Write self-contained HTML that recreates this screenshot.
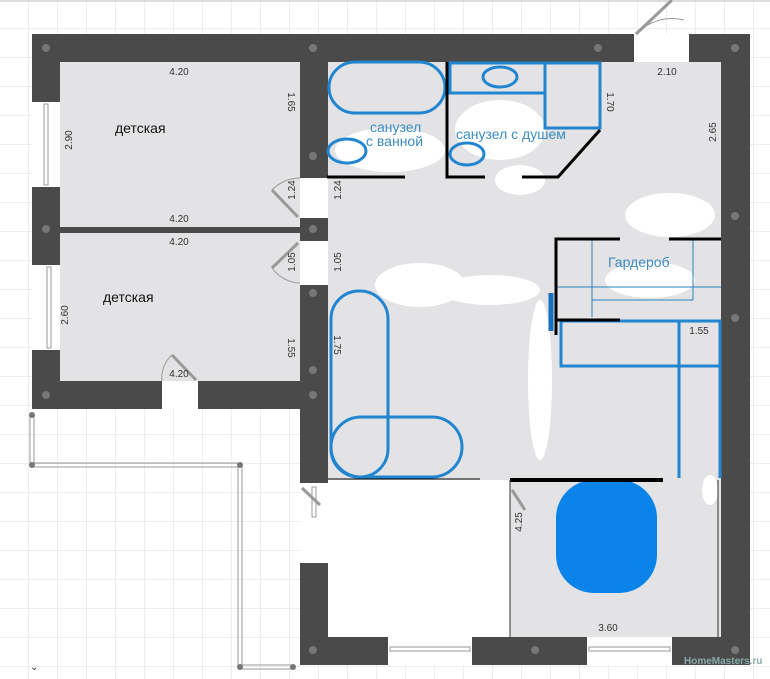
<!DOCTYPE html>
<html><head><meta charset="utf-8"><style>
html,body{margin:0;padding:0;background:#fff;}
svg{display:block}
text{font-family:"Liberation Sans","DejaVu Sans",sans-serif;}
</style></head><body>
<svg width="770" height="679" viewBox="0 0 770 679" xmlns="http://www.w3.org/2000/svg">
<defs>
<pattern id="g" width="29" height="29" patternUnits="userSpaceOnUse" x="0" y="0">
<path d="M29 0V29M0 29H29" stroke="#dedede" stroke-width="1" fill="none"/>
</pattern>
</defs>
<rect width="770" height="679" fill="#fff"/>
<rect width="770" height="679" fill="url(#g)"/>
<line x1="0" y1="1" x2="770" y2="1" stroke="#bbb"/>

<!-- left rooms -->
<rect x="32" y="34" width="296" height="375" fill="#4a4a4a"/>
<rect x="60" y="62" width="240" height="165" fill="#e3e3e5"/>
<rect x="60" y="233" width="240" height="148" fill="#e3e3e5"/>
<!-- right section walls -->
<rect x="300" y="34" width="334" height="28" fill="#4a4a4a"/>
<rect x="689" y="34" width="61" height="28" fill="#4a4a4a"/>
<rect x="300" y="34" width="28" height="631" fill="#4a4a4a"/>
<rect x="721" y="34" width="29" height="631" fill="#4a4a4a"/>
<rect x="300" y="637" width="450" height="28" fill="#4a4a4a"/>
<rect x="328" y="62" width="393" height="418" fill="#e3e3e5"/>
<rect x="510" y="480" width="211" height="157" fill="#e3e3e5"/>
<rect x="328" y="480" width="182" height="157" fill="#fff"/>

<!-- openings -->
<rect x="300" y="178" width="28" height="40" fill="#fff"/>
<rect x="300" y="241" width="28" height="44" fill="#fff"/>
<rect x="300" y="483" width="28" height="80" fill="#fff"/>
<rect x="162" y="381" width="36" height="28" fill="#fff"/>
<rect x="32" y="102" width="28" height="85" fill="#fff"/>
<rect x="32" y="265" width="28" height="85" fill="#fff"/>
<rect x="388" y="637" width="84" height="28" fill="#fff"/>
<rect x="587" y="637" width="85" height="28" fill="#fff"/>
<rect x="634" y="34" width="55" height="28" fill="#fff"/>
<g stroke="#999" fill="none" stroke-width="1">
<rect x="44" y="104" width="4" height="81"/><rect x="47" y="267" width="4" height="81"/>
<rect x="312" y="487" width="4" height="30"/>
<rect x="390" y="647" width="80" height="4"/><rect x="589" y="647" width="81" height="4"/>
<line x1="636" y1="34" x2="672" y2="0" stroke-width="3"/>
<path d="M636 34 A50 50 0 0 1 684 20"/>
<line x1="272" y1="190" x2="298" y2="217" stroke-width="3"/>
<path d="M272 190 A40 40 0 0 1 300 178"/>
<line x1="272" y1="268" x2="298" y2="243" stroke-width="3"/>
<path d="M272 268 A36 36 0 0 0 300 283"/>
<line x1="172" y1="355" x2="196" y2="380" stroke-width="3"/>
<path d="M162 381 A30 30 0 0 1 172 355"/>
<line x1="302" y1="488" x2="320" y2="505" stroke-width="3"/>
<line x1="512" y1="490" x2="525" y2="510" stroke-width="3"/>
</g>
<!-- dots -->
<g fill="#777">
<circle cx="46" cy="48" r="4"/><circle cx="313" cy="48" r="4"/><circle cx="46" cy="229" r="4"/><circle cx="313" cy="156" r="4"/>
<circle cx="313" cy="229" r="4"/><circle cx="313" cy="293" r="4"/><circle cx="46" cy="395" r="4"/><circle cx="313" cy="395" r="4"/>
<circle cx="598" cy="48" r="4"/><circle cx="735" cy="48" r="4"/><circle cx="735" cy="216" r="4"/><circle cx="735" cy="318" r="4"/>
<circle cx="313" cy="370" r="4"/><circle cx="313" cy="650" r="4"/><circle cx="535" cy="650" r="4"/><circle cx="735" cy="650" r="4"/>
</g>
<!-- balcony -->
<g stroke="#999" fill="none" stroke-width="1">
<rect x="30" y="415" width="4" height="50"/><rect x="32" y="463" width="208" height="4"/>
<rect x="238" y="465" width="4" height="202"/><rect x="240" y="665" width="53" height="4"/>
</g>
<g fill="#777"><circle cx="32" cy="415" r="3"/><circle cx="32" cy="465" r="3"/><circle cx="240" cy="465" r="3"/><circle cx="240" cy="667" r="3"/><circle cx="293" cy="667" r="3"/></g>

<!-- white blobs -->
<g fill="#fff">
<ellipse cx="390" cy="150" rx="55" ry="22"/><ellipse cx="500" cy="130" rx="45" ry="30"/><ellipse cx="520" cy="180" rx="25" ry="15"/>
<ellipse cx="670" cy="215" rx="45" ry="22"/><ellipse cx="420" cy="285" rx="45" ry="22"/><ellipse cx="490" cy="290" rx="50" ry="15"/>
<ellipse cx="540" cy="380" rx="12" ry="80"/><ellipse cx="650" cy="280" rx="45" ry="18"/><ellipse cx="710" cy="490" rx="8" ry="15"/>
</g>

<!-- fixtures -->
<g fill="none" stroke="#2185d0" stroke-width="3">
<rect x="329" y="62" width="116" height="51" rx="26"/>
<ellipse cx="347" cy="151" rx="19" ry="12"/>
<rect x="450" y="63" width="95" height="30"/>
<rect x="545" y="63" width="55" height="65"/>
<ellipse cx="500" cy="77" rx="17" ry="10"/>
<ellipse cx="467" cy="154" rx="17" ry="11"/>
<rect x="331" y="291" width="57" height="186" rx="28"/>
<rect x="331" y="417" width="131" height="60" rx="30"/>
<rect x="561" y="321" width="159" height="45"/>
<line x1="679" y1="321" x2="679" y2="478"/>
<line x1="720" y1="321" x2="720" y2="478"/>
</g>
<line x1="551" y1="293" x2="551" y2="331" stroke="#1670c0" stroke-width="5"/>
<g stroke="#2a80c4" stroke-width="1" fill="none">
<line x1="592" y1="240" x2="592" y2="317"/><line x1="693" y1="240" x2="693" y2="300"/>
<line x1="557" y1="287" x2="721" y2="287"/><line x1="592" y1="300" x2="693" y2="300"/>
</g>
<rect x="556" y="480" width="101" height="113" rx="38" fill="#0a84e8"/>
<!-- black partitions -->
<g stroke="#000" stroke-width="3" fill="none">
<line x1="327" y1="177" x2="405" y2="177"/>
<polyline points="447,62 447,177 485,177"/>
<polyline points="522,177 558,177 600,130"/>
<polyline points="620,239 556,239 556,335"/>
<line x1="669" y1="239" x2="721" y2="239"/>
<line x1="556" y1="320" x2="620" y2="320"/>
<line x1="510" y1="480" x2="663" y2="480" stroke-width="4"/>
</g>
<line x1="328" y1="479" x2="480" y2="479" stroke="#000" stroke-width="1"/>
<line x1="510" y1="480" x2="510" y2="637" stroke="#333" stroke-width="1"/>
<line x1="718" y1="480" x2="718" y2="637" stroke="#333" stroke-width="1"/>

<!-- labels -->
<g font-size="14" fill="#3a8cc0">
<text x="370" y="132">санузел</text><text x="366" y="146">с ванной</text>
<text x="456" y="139">санузел с душем</text>
<text x="608" y="267">Гардероб</text>
</g>
<g font-size="14" fill="#111">
<text x="115" y="133">детская</text><text x="103" y="302">детская</text>
</g>
<g font-size="10" fill="#333" text-anchor="middle">
<text x="179" y="75">4.20</text><text x="179" y="222">4.20</text><text x="179" y="245">4.20</text><text x="179" y="377">4.20</text>
<text x="667" y="75">2.10</text><text x="699" y="334">1.55</text><text x="608" y="631">3.60</text>
<text transform="translate(72,140) rotate(-90)">2.90</text>
<text transform="translate(68,315) rotate(-90)">2.60</text>
<text transform="translate(288,102) rotate(90)">1.65</text>
<text transform="translate(288,348) rotate(90)">1.55</text>
<text transform="translate(295,190) rotate(-90)">1.24</text>
<text transform="translate(341,190) rotate(-90)">1.24</text>
<text transform="translate(295,262) rotate(-90)">1.05</text>
<text transform="translate(341,262) rotate(-90)">1.05</text>
<text transform="translate(334,345) rotate(90)">1.75</text>
<text transform="translate(607,102) rotate(90)">1.70</text>
<text transform="translate(716,132) rotate(-90)">2.65</text>
<text transform="translate(522,522) rotate(-90)">4.25</text>
</g>
<text x="30" y="670" font-size="10" fill="#333">⌄</text>
<text x="684" y="664" font-size="10" fill="#8aa" font-weight="bold">HomeMasters.ru</text>
</svg>
</body></html>
